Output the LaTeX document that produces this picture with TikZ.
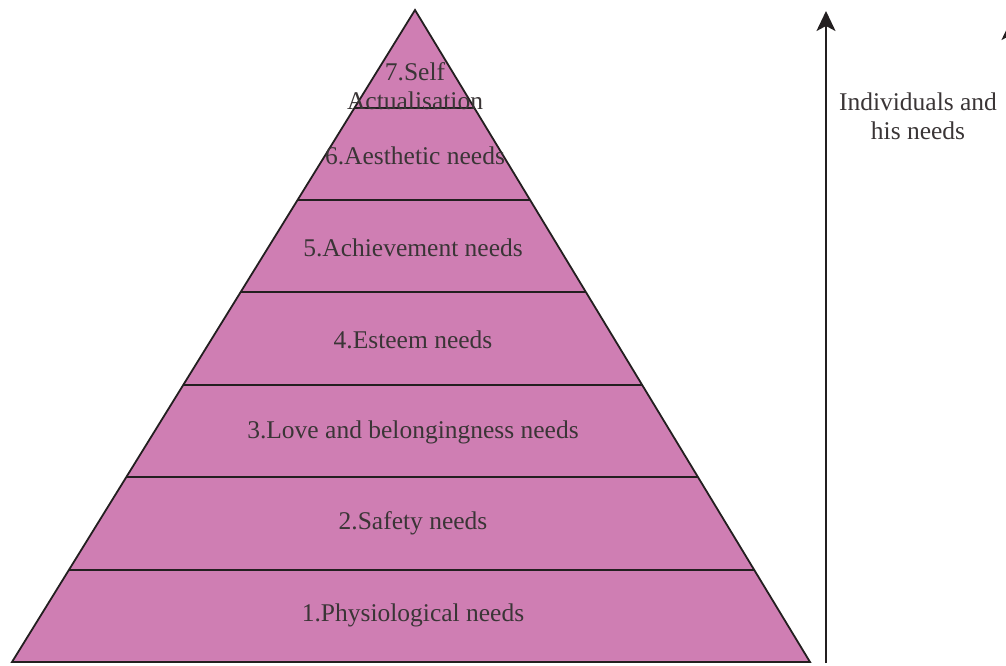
\documentclass[tikz,border=0pt]{standalone}
\usepackage{fontspec}
\setmainfont{Liberation Serif}
\usetikzlibrary{arrows.meta,calc}
\definecolor{pyrfill}{HTML}{CF7EB3}
\definecolor{pyrink}{HTML}{231F20}
\definecolor{pyrtext}{HTML}{3A3536}
\tikzset{
  edge/.style={draw=pyrink, line width=1.8pt},
  lbl/.style={font=\fontsize{25.5}{29}\selectfont, color=pyrtext, align=center, inner sep=0pt},
  arr/.style={-{Stealth[length=20pt,width=19pt,inset=5pt]}, line width=1.9pt, color=pyrink},
}
\begin{document}
\begin{tikzpicture}[x=1pt,y=-1pt]
  \useasboundingbox (0,0) rectangle (1006,665);
  % pyramid
  \coordinate (apex) at (415,10);
  \coordinate (bl) at (12,662);
  \coordinate (br) at (810,662);
  \fill[pyrfill] (apex) -- (bl) -- (br) -- cycle;
  \foreach \y [evaluate=\y as \f using (\y-10)/652] in {108,200,292,385,477,570}
    { \draw[edge] ($(apex)!\f!(bl)$) -- ($(apex)!\f!(br)$); }
  \draw[edge, line join=miter] (apex) -- (bl) -- (br) -- cycle;
  % levels
  \node[lbl] (self) at (415,86) {7.Self\\Actualisation};
  \node[lbl] (aesth) at (415,156) {6.Aesthetic needs};
  \node[lbl] (achv) at (413,248) {5.Achievement needs};
  \node[lbl] (estm) at (413,340) {4.Esteem needs};
  \node[lbl] (love) at (413,432) {3.Love and belongingness needs};
  \node[lbl] (safe) at (413,523) {2.Safety needs};
  \node[lbl] (phys) at (413,615) {1.Physiological needs};
  % side arrows
  \coordinate (lo) at (826,663);
  \coordinate (hi) at (826,11);
  \draw[arr] (lo) -- (hi);
  \node[lbl] (indiv) at (918,116) {Individuals and\\his needs};
  \begin{scope}
    \clip (0,0) rectangle (1006,665);
    \coordinate (lo2) at (1011,200);
    \coordinate (hi2) at (1011,20);
    \draw[arr] (lo2) -- (hi2);
  \end{scope}
\end{tikzpicture}
\end{document}
